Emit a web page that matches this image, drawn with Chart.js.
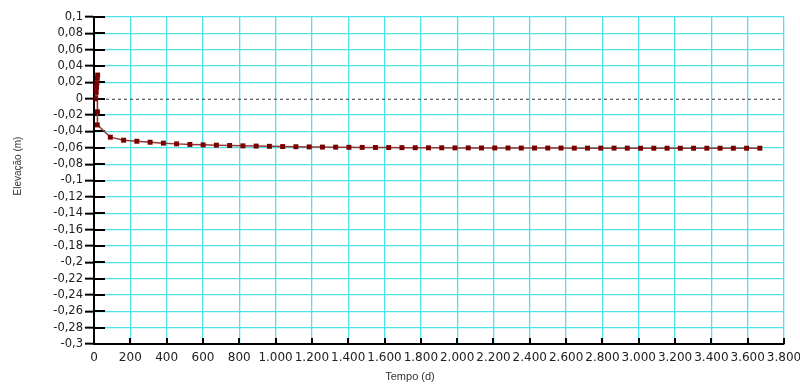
<!DOCTYPE html>
<html>
<head>
<meta charset="utf-8">
<script src="https://cdn.jsdelivr.net/npm/chart.js@4/dist/chart.umd.min.js"></script>
<style>
  body { margin: 0; background: #fff; }
  #wrap { width: 800px; height: 385px; position: relative; }
</style>
</head>
<body>
<div id="wrap"><canvas id="elevChart"></canvas></div>
<script>
// tempo (d) e elevação (m)
const tempo = [
  8, 12, 14, 16, 18, 20, 19, 18,
  90, 163, 236, 309, 382, 455, 528, 601, 674, 747,
  820, 893, 966, 1039, 1112, 1185, 1258, 1331, 1404, 1477,
  1550, 1623, 1696, 1769, 1842, 1915, 1988, 2061, 2134, 2207,
  2280, 2353, 2426, 2499, 2572, 2645, 2718, 2791, 2864, 2937,
  3010, 3083, 3156, 3229, 3302, 3375, 3448, 3521, 3594, 3667
];
const elevacao = [
  0, 0.008, 0.014, 0.019, 0.025, 0.029, -0.016, -0.032,
  -0.047, -0.0507, -0.052, -0.0532, -0.0543, -0.0552, -0.0559, -0.0564, -0.0568, -0.0572,
  -0.0576, -0.0579, -0.0582, -0.0585, -0.0587, -0.0589, -0.0591, -0.0592, -0.0594, -0.0595,
  -0.0596, -0.0597, -0.0598, -0.0599, -0.06, -0.06, -0.0601, -0.0601, -0.0602, -0.0602,
  -0.0602, -0.0603, -0.0603, -0.0603, -0.0603, -0.0604, -0.0604, -0.0604, -0.0604, -0.0604,
  -0.0605, -0.0605, -0.0605, -0.0605, -0.0605, -0.0605, -0.0605, -0.0605, -0.0605, -0.0605
];

const xTickLabels = ['0', '200', '400', '600', '800', '1.000', '1.200', '1.400', '1.600', '1.800',
  '2.000', '2.200', '2.400', '2.600', '2.800', '3.000', '3.200', '3.400', '3.600', '3.800'];
const yTickLabels = ['-0,3', '-0,28', '-0,26', '-0,24', '-0,22', '-0,2', '-0,18', '-0,16', '-0,14',
  '-0,12', '-0,1', '-0,08', '-0,06', '-0,04', '-0,02', '0', '0,02', '0,04', '0,06', '0,08', '0,1'];

const gridCyan = 'rgb(80, 226, 232)';

// tick marks pointing into the plot, zero line and axis titles
const extrasPlugin = {
  id: 'extras',
  beforeDatasetsDraw(chart) {
    const { ctx, chartArea, scales } = chart;
    const x = scales.x, y = scales.y;
    ctx.save();
    // dashed zero line
    const y0 = y.getPixelForValue(0);
    ctx.strokeStyle = '#3a3a3a';
    ctx.lineWidth = 1;
    ctx.setLineDash([3, 3]);
    ctx.beginPath();
    ctx.moveTo(chartArea.left, y0 + 0.5);
    ctx.lineTo(chartArea.right, y0 + 0.5);
    ctx.stroke();
    ctx.setLineDash([]);
    // inner ticks
    ctx.strokeStyle = '#000';
    ctx.lineWidth = 2;
    ctx.beginPath();
    y.ticks.forEach(t => {
      const py = Math.round(y.getPixelForValue(t.value));
      ctx.moveTo(chartArea.left, py);
      ctx.lineTo(chartArea.left + 11, py);
    });
    x.ticks.forEach(t => {
      if (t.value === 0) return;
      const px = Math.round(x.getPixelForValue(t.value));
      ctx.moveTo(px, chartArea.bottom);
      ctx.lineTo(px, chartArea.bottom - 6);
    });
    ctx.stroke();
    ctx.restore();
  },
  afterDraw(chart) {
    const { ctx } = chart;
    ctx.save();
    ctx.fillStyle = '#333';
    ctx.textAlign = 'center';
    ctx.textBaseline = 'middle';
    ctx.font = '11px "Liberation Sans"';
    ctx.fillText('Tempo (d)', 410, 377);
    ctx.translate(18, 166);
    ctx.rotate(-Math.PI / 2);
    ctx.font = '10px "Liberation Sans"';
    ctx.fillText('Elevação (m)', 0, 0);
    ctx.restore();
  }
};

const ctx = document.getElementById('elevChart').getContext('2d');

const elevChart = new Chart(ctx, {
  type: 'line',
  data: {
    datasets: [{
      label: 'Elevação',
      data: tempo.map((t, i) => ({ x: t, y: elevacao[i] })),
      borderColor: '#9a3636',
      borderWidth: 1.5,
      backgroundColor: '#780000',
      pointStyle: 'rect',
      pointRadius: 3.5,
      pointBorderWidth: 0,
      tension: 0,
      fill: false
    }]
  },
  options: {
    responsive: true,
    maintainAspectRatio: false,
    animation: false,
    layout: { padding: { top: 17, right: 16, left: 0, bottom: 0 } },
    plugins: {
      legend: { display: false },
      tooltip: { enabled: false }
    },
    scales: {
      x: {
        type: 'linear',
        min: 0,
        max: 3800,
        afterFit: s => { s.height = 41; s.paddingRight = 0; s.paddingLeft = 0; },
        ticks: {
          stepSize: 200,
          maxRotation: 0,
          autoSkip: false,
          padding: 7,
          color: '#222',
          font: { family: 'DejaVu Sans', size: 12 },
          callback: (v, i) => xTickLabels[i]
        },
        grid: { color: () => gridCyan, lineWidth: 1.3, drawTicks: false },
        border: { color: '#000', width: 2 }
      },
      y: {
        min: -0.3,
        max: 0.1,
        afterFit: s => { s.width = 94; },
        ticks: {
          stepSize: 0.02,
          autoSkip: false,
          padding: 2,
          color: '#222',
          font: { family: 'DejaVu Sans', size: 11.5 },
          callback: (v, i) => yTickLabels[i]
        },
        grid: {
          color: c => (c.tick && Math.abs(c.tick.value) < 1e-9) ? 'rgba(0,0,0,0)' : gridCyan,
          lineWidth: 1.3,
          drawTicks: true,
          tickLength: 9,
          tickColor: '#000',
          tickWidth: 2
        },
        border: { color: '#000', width: 2 }
      }
    }
  },
  plugins: [extrasPlugin]
});
</script>
</body>
</html>
